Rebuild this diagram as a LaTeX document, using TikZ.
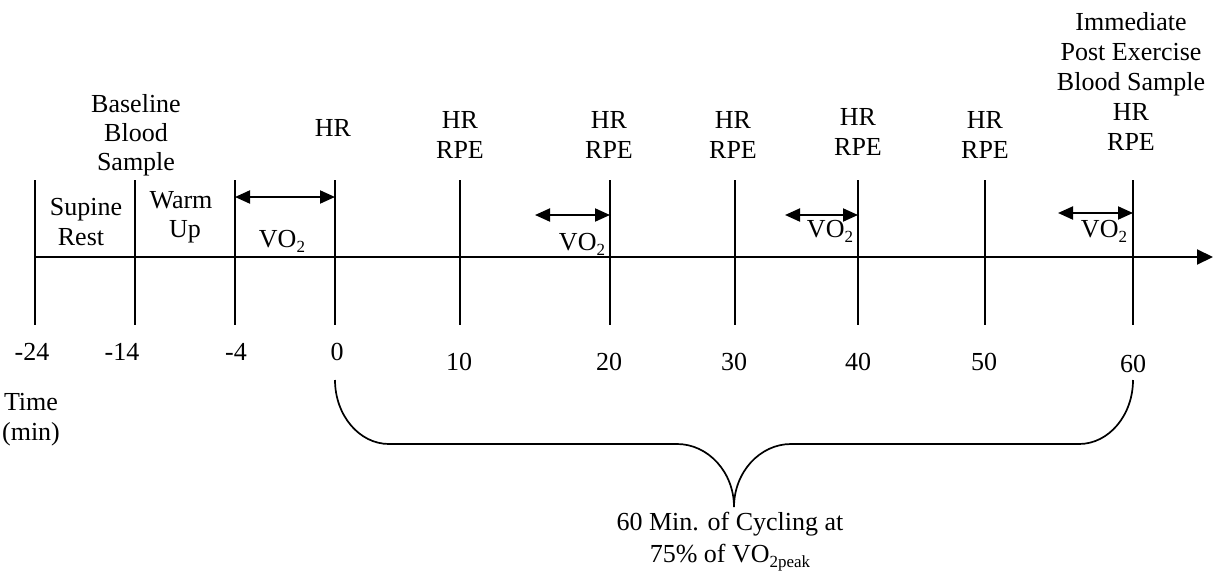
\documentclass[tikz,border=0pt]{standalone}
\usepackage{fontspec}
\setmainfont{Liberation Serif}
\usetikzlibrary{arrows.meta}
\newcommand\mysubtxt[1]{\raisebox{-0.22em}{\fontsize{17}{17}\selectfont #1}}
\begin{document}
\begin{tikzpicture}[x=1pt,y=-1pt,
  txt/.style={anchor=base,inner sep=0pt,font=\fontsize{26}{30}\selectfont},
  tickline/.style={line width=2pt},
  axisline/.style={line width=2pt,-{Triangle[length=16pt,width=15pt]}},
  dblarrow/.style={line width=2pt,{Triangle[length=15pt,width=13pt]}-{Triangle[length=15pt,width=13pt]}},
  bracestyle/.style={line width=1.7pt}]
\useasboundingbox (0,0) rectangle (1214,573);

% tick lines
\foreach \n/\x in {m24/35,m14/135,m4/235,t0/335,t10/460,t20/610,t30/735,t40/858,t50/985,t60/1133}{
  \coordinate (\n top) at (\x,180);
  \coordinate (\n bot) at (\x,325);
  \draw[tickline] (\n top) -- (\n bot);
}

% axis
\coordinate (axstart) at (35,257);
\coordinate (axend) at (1213,257);
\draw[axisline] (axstart) -- (axend);

% VO2 arrows
\coordinate (v1l) at (235,197); \coordinate (v1r) at (335,197);
\coordinate (v2l) at (535,215); \coordinate (v2r) at (610,215);
\coordinate (v3l) at (785,215); \coordinate (v3r) at (858,215);
\coordinate (v4l) at (1058,213); \coordinate (v4r) at (1133,213);
\draw[dblarrow] (v1l) -- (v1r);
\draw[dblarrow] (v2l) -- (v2r);
\draw[dblarrow] (v3l) -- (v3r);
\draw[dblarrow] (v4l) -- (v4r);

% top labels
\node[txt] (bl1) at (136,112) {Baseline};
\node[txt] (bl2) at (136,141) {Blood};
\node[txt] (bl3) at (136,170) {Sample};
\node[txt] (sr1) at (86,215) {Supine};
\node[txt] (sr2) at (81,245) {Rest};
\node[txt] (wu1) at (181,208) {Warm};
\node[txt] (wu2) at (185,237) {Up};
\node[txt] (hr0) at (333,136) {HR};
\node[txt] (hr10) at (460,128) {HR};
\node[txt] (rpe10) at (460,158) {RPE};
\node[txt] (hr20) at (609,128) {HR};
\node[txt] (rpe20) at (609,158) {RPE};
\node[txt] (hr30) at (733,128) {HR};
\node[txt] (rpe30) at (733,158) {RPE};
\node[txt] (hr40) at (858,125) {HR};
\node[txt] (rpe40) at (858,155) {RPE};
\node[txt] (hr50) at (985,128) {HR};
\node[txt] (rpe50) at (985,158) {RPE};
\node[txt] (im1) at (1131,30) {Immediate};
\node[txt] (im2) at (1131,60) {Post Exercise};
\node[txt] (im3) at (1131,90) {Blood Sample};
\node[txt] (hr60) at (1131,120) {HR};
\node[txt] (rpe60) at (1131,150) {RPE};

% VO2 labels
\node[txt] (vo1) at (282,247) {VO\mysubtxt{2}};
\node[txt] (vo2) at (582,250) {VO\mysubtxt{2}};
\node[txt] (vo3) at (830,237) {VO\mysubtxt{2}};
\node[txt] (vo4) at (1104,237) {VO\mysubtxt{2}};

% tick labels
\node[txt] (lm24) at (32,360) {-24};
\node[txt] (lm14) at (122,360) {-14};
\node[txt] (lm4) at (236,360) {-4};
\node[txt] (l0) at (337,360) {0};
\node[txt] (l10) at (459,370) {10};
\node[txt] (l20) at (609,370) {20};
\node[txt] (l30) at (734,370) {30};
\node[txt] (l40) at (858,370) {40};
\node[txt] (l50) at (984,370) {50};
\node[txt] (l60) at (1133,372) {60};
\node[txt] (tm1) at (31,410) {Time};
\node[txt] (tm2) at (31,440) {(min)};

% brace
\coordinate (brL) at (335,380);
\coordinate (brR) at (1133,380);
\coordinate (brTip) at (734,507);
\draw[bracestyle] (brL) .. controls (335,415) and (359,444) .. (389,444) -- (677,444)
  .. controls (708,444) and (734,472) .. (brTip)
  .. controls (734,472) and (760,444) .. (791,444) -- (1079,444)
  .. controls (1109,444) and (1133,415) .. (brR);

% bottom text
\node[txt] (bt1) at (730,530) {60 Min. of Cycling at};
\node[txt] (bt2) at (730,562) {75\% of VO\mysubtxt{2peak}};
\end{tikzpicture}
\end{document}
